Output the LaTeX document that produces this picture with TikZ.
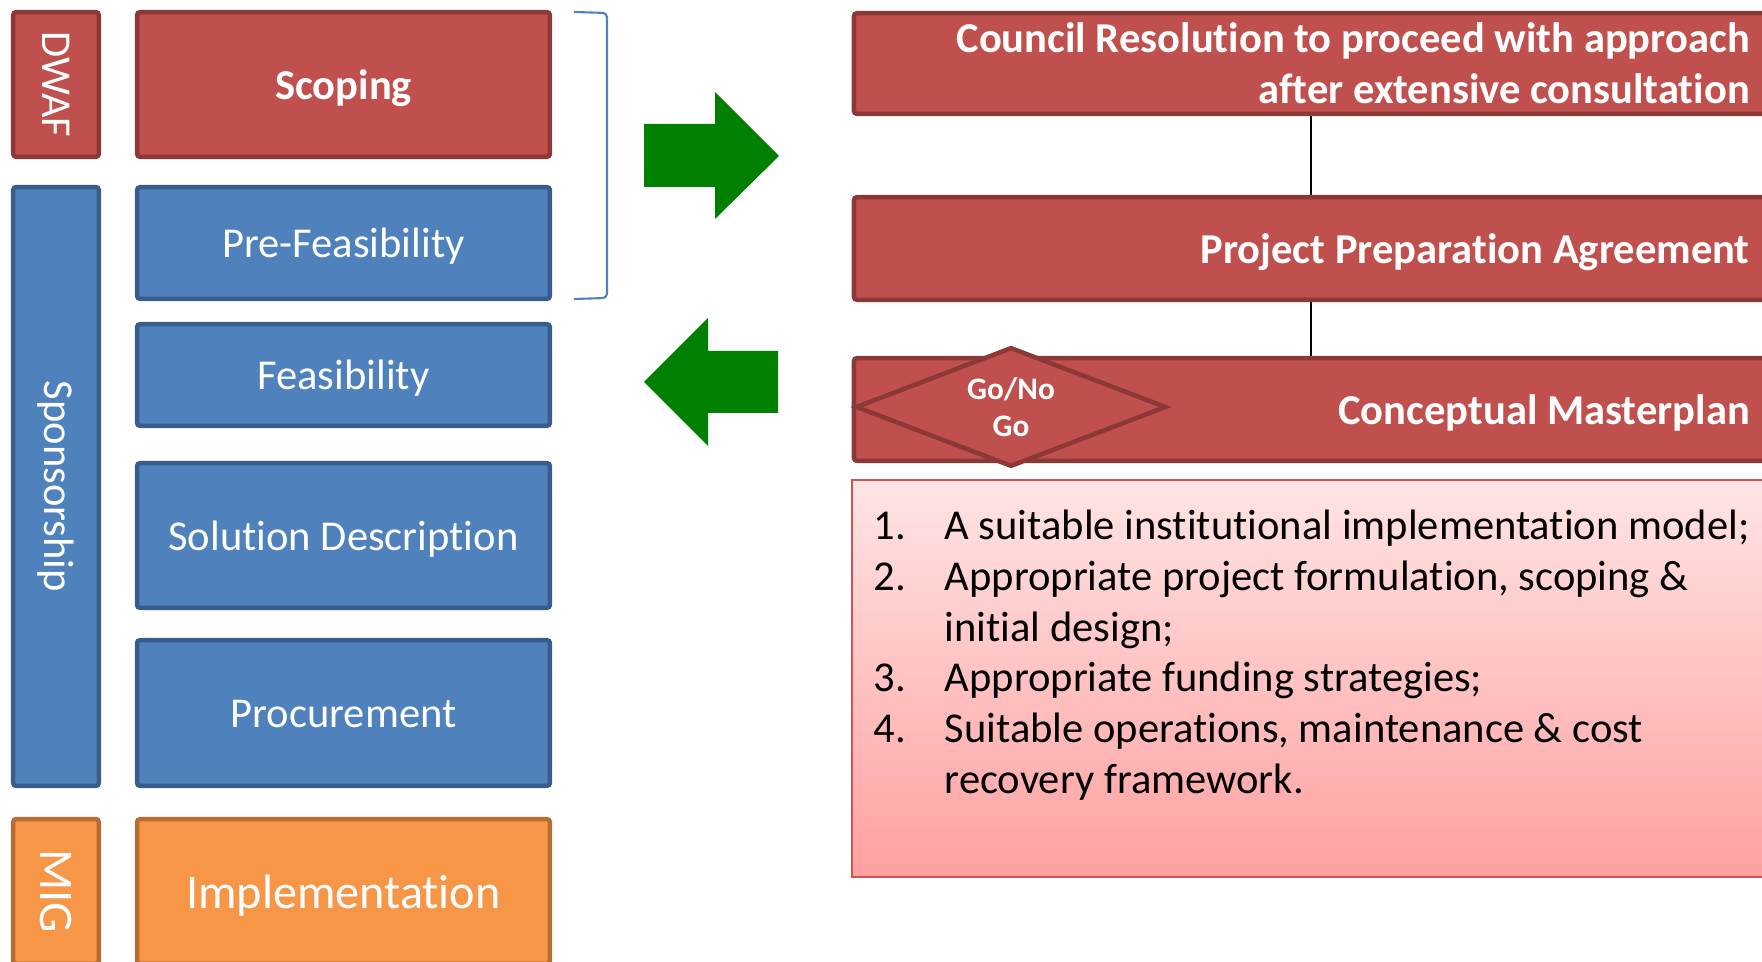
\documentclass[tikz,border=0pt]{standalone}
\usepackage{fontspec}
\setmainfont{Carlito}[Ligatures={NoCommon}]
\usepackage{xcolor}
\usepackage{tikz}
\usetikzlibrary{positioning, shapes.geometric}
\definecolor{phasered}{RGB}{192,80,77}
\definecolor{phasereddark}{RGB}{140,56,54}
\definecolor{phaseblue}{RGB}{79,129,189}
\definecolor{phasebluedark}{RGB}{56,93,138}
\definecolor{phaseorange}{RGB}{247,150,70}
\definecolor{phaseorangedark}{RGB}{182,109,52}
\definecolor{arrowgreen}{RGB}{0,128,0}
\definecolor{listtop}{RGB}{255,228,228}
\definecolor{listbottom}{RGB}{255,160,160}
\definecolor{listedge}{RGB}{205,85,85}

\begin{document}
\begin{tikzpicture}[
  x=0.01cm, y=-0.01cm,
  every node/.style={text=white, font=\fontsize{12.1}{14.4}\selectfont},
  box/.style={draw, line width=1.28pt, rounded corners=0.8pt, inner sep=0pt},
  redbox/.style={box, fill=phasered, draw=phasereddark, font=\fontsize{12.1}{14.4}\selectfont\bfseries},
  bluebox/.style={box, fill=phaseblue, draw=phasebluedark},
  orangebox/.style={box, fill=phaseorange, draw=phaseorangedark},
  owner/.style={rotate=-90, minimum height=0.855cm},
  oneline/.style={text height=8.4pt, text depth=0pt},
  stage/.style={oneline, minimum width=4.125cm},
  banner/.style={redbox, text width=8.77cm, align=flush right, inner xsep=0.1825cm}
]
\useasboundingbox (0,0) rectangle (1762,962);
\clip (0,0) rectangle (1762,962);

% who pays for each stage
\node[redbox, owner, font=\fontsize{12.1}{14.4}\selectfont, minimum width=1.445cm] (dwaf) at (56,84.5) {DWAF};
\node[bluebox, owner, minimum width=5.985cm] (sponsor) at (56,486.5) {Sponsorship};
\node[orangebox, owner, font=\fontsize{13.7}{16}\selectfont, minimum width=1.445cm] (mig) at (56,891.5) {MIG};

% project stages
\node[redbox, stage, minimum height=1.445cm] (scoping) at (343.5,84.5) {Scoping};
\node[bluebox, stage, minimum height=1.115cm] (prefeas) at (343.5,243) {Pre-Feasibility};
\node[bluebox, stage, minimum height=1.015cm] (feas) at (343.5,375) {Feasibility};
\node[bluebox, stage, minimum height=1.445cm] (solution) at (343.5,535.5) {Solution Description};
\node[bluebox, stage, minimum height=1.455cm] (procure) at (343.5,713) {Procurement};
\node[orangebox, stage, minimum height=1.445cm, text height=9.5pt,
      font=\fontsize{13.7}{16}\selectfont] (implement) at (343.5,891.5) {Implementation};

% bracket round the first two stages
\draw[phaseblue, line width=0.6pt, rounded corners=1.2pt] (574,12) -- (607,13) -- (607,298) -- (574,299);

% in and out arrows
\fill[arrowgreen] (644,124) -- (715,124) -- (715,92) -- (779,156) -- (715,219) -- (715,187) -- (644,187) -- cycle;
\fill[arrowgreen] (778,351) -- (708,351) -- (708,318) -- (644,382) -- (708,446) -- (708,413) -- (778,413) -- cycle;

% council steps
\node[banner, minimum height=1.005cm] (council) at (1311,63.5)
  {Council Resolution to proceed with approach\\after extensive consultation};
\node[banner, oneline, minimum height=1.025cm] (prep) at (1311,248.5) {Project Preparation Agreement};
\node[banner, oneline, minimum height=1.025cm] (concept) at (1311,409.5) {Conceptual Masterplan};
\draw[line width=0.6pt] (council) -- (prep);
\draw[line width=0.6pt] (prep) -- (concept);
\node[diamond, shape aspect=2.5, draw=phasereddark, fill=phasered, line width=1.28pt, inner sep=0pt,
      minimum width=3.105cm, minimum height=1.195cm, align=center,
      font=\fontsize{8.9}{10.5}\selectfont\bfseries] (gonogo) at (1011,407) {Go/No\\Go};

% outcomes of the masterplan
\node[draw=listedge, line width=0.6pt, top color=listtop, bottom color=listbottom,
      minimum width=9.18cm, minimum height=3.97cm, inner sep=0pt] (outcomes) at (1311,678.5) {};
\node[anchor=base west, text=black, inner sep=0pt] (goals) at (873,540) {%
  \begin{tabular}[t]{@{}p{0.71cm}@{}l@{}}
  1. & A suitable institutional implementation model;\\
  2. & Appropriate project formulation, scoping \&\\
     & initial design;\\
  3. & Appropriate funding strategies;\\
  4. & Suitable operations, maintenance \& cost\\
     & recovery framework.
  \end{tabular}};
\end{tikzpicture}
\end{document}
